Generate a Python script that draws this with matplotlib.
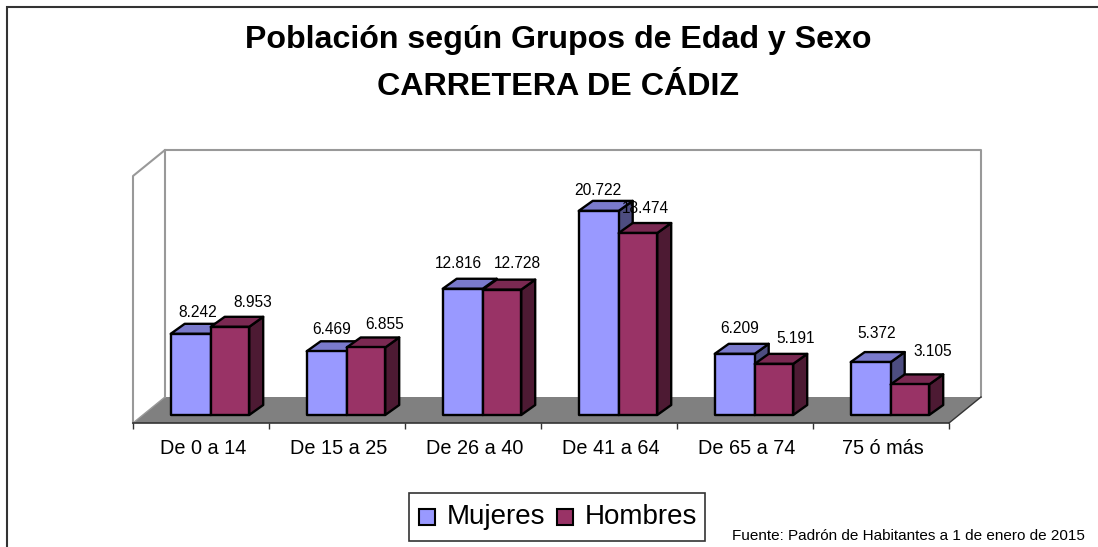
import numpy as np
import matplotlib
matplotlib.use("Agg")
import matplotlib.pyplot as plt
from matplotlib.patches import Polygon, Rectangle

plt.rcParams["font.family"] = ["Liberation Sans", "DejaVu Sans"]

GROUPS = ["De 0 a 14", "De 15 a 25", "De 26 a 40", "De 41 a 64", "De 65 a 74", "75 ó más"]
MUJERES = [8242, 6469, 12816, 20722, 6209, 5372]
HOMBRES = [8953, 6855, 12728, 18474, 5191, 3105]
MUJERES_LBL = ["8.242", "6.469", "12.816", "20.722", "6.209", "5.372"]
HOMBRES_LBL = ["8.953", "6.855", "12.728", "18.474", "5.191", "3.105"]
# nudges of the value labels, px from the front top left corner of each bar
MUJERES_OFF = [(27, 21), (25, 22), (16, 25), (19, 20), (25, 25), (26, 29)]
HOMBRES_OFF = [(42, 24), (38, 23), (35, 26), (27, 25), (41, 25), (42, 33)]

W, H = 1098, 547
PX_PER_CAT = 136.0
PX_PER_UNIT = 9.85 / 1000
BASE_Y = 415
LEFT, RIGHT, FRONT, TOP = 133, 949, 423, 176
BAR_W_M = 40 / PX_PER_CAT
BAR_W_H = 38.5 / PX_PER_CAT
BAR_X0 = (170.7 - LEFT) / PX_PER_CAT - 0.5
DX, DY = 14 / PX_PER_CAT, 10 / PX_PER_UNIT
WALL_DX, WALL_DY = 32 / PX_PER_CAT, 26 / PX_PER_UNIT

fig = plt.figure(figsize=(W / 100, H / 100), dpi=100, facecolor="white")

# outer frame and text live in figure pixels
bg = fig.add_axes([0, 0, 1, 1])
bg.set_xlim(0, W); bg.set_ylim(H, 0); bg.axis("off")
bg.plot([7, 7, W], [H, 6.5, 6.5], color="#333333", lw=1.5, solid_joinstyle="miter")

ax = fig.add_axes([LEFT / W, 1 - FRONT / H, (RIGHT - LEFT) / W, (FRONT - TOP) / H])
ax.patch.set_visible(False)
ax.set_xlim(-0.5, 5.5)
ax.set_ylim((BASE_Y - FRONT) / 9.85 * 1000, (BASE_Y - TOP) / 9.85 * 1000)
for sp in ax.spines.values():
    sp.set_visible(False)
ax.set_yticks([])

y0, y1 = ax.get_ylim()
xl, xr = -0.5, 5.5
GREY = "#999999"
# floor
ax.add_patch(Polygon([(xl, y0), (xl + WALL_DX, y0 + WALL_DY), (xr + WALL_DX, y0 + WALL_DY), (xr, y0)],
                     closed=True, fc="#808080", ec="none", clip_on=False, zorder=1))
# walls
wall_top = y1 + WALL_DY
ax.plot([xl, xl, xl + WALL_DX, xr + WALL_DX, xr + WALL_DX],
        [y0, y1, wall_top, wall_top, y0 + WALL_DY], color=GREY, lw=1.5, clip_on=False, zorder=1)
ax.plot([xl + WALL_DX, xl + WALL_DX], [wall_top, y0 + WALL_DY], color=GREY, lw=1.5, clip_on=False, zorder=1)
ax.plot([xl, xl + WALL_DX], [y0, y0 + WALL_DY], color=GREY, lw=1, clip_on=False, zorder=1)
ax.plot([xr, xr + WALL_DX], [y0, y0 + WALL_DY], color="#333333", lw=1, clip_on=False, zorder=1)
# front axis line and ticks
ax.plot([xl, xr], [y0, y0], color="#333333", lw=1.2, clip_on=False, zorder=2)
ax.set_xticks(np.arange(-0.5, 6, 1))
ax.set_xticklabels([])
ax.tick_params(axis="x", length=4.5, width=1, color="#333333", pad=0)
for i, g in enumerate(GROUPS):
    ax.annotate(g, (i, y0), xytext=(2, -26), textcoords="offset pixels",
                ha="center", va="center", fontsize=14.3, color="black", annotation_clip=False)


def bar3d(x, w, v, front, top, side, z):
    k = dict(closed=True, ec="black", lw=1.7, clip_on=False, zorder=z, joinstyle="round")
    ax.add_patch(Polygon([(x + w, 0), (x + w + DX, DY), (x + w + DX, v + DY), (x + w, v)], fc=side, **k))
    ax.add_patch(Polygon([(x, v), (x + DX, v + DY), (x + w + DX, v + DY), (x + w, v)], fc=top, **k))
    ax.add_patch(Polygon([(x, 0), (x, v), (x + w, v), (x + w, 0)], fc=front, **k))


for i in range(len(GROUPS)):
    xm = BAR_X0 + i
    xh = xm + BAR_W_M
    bar3d(xm, BAR_W_M, MUJERES[i], "#9999FF", "#7A7ACC", "#4D4D80", 3 + i * 2)
    bar3d(xh, BAR_W_H, HOMBRES[i], "#993366", "#7A2952", "#4D1A33", 4 + i * 2)
    ax.annotate(MUJERES_LBL[i], (xm, MUJERES[i]), xytext=MUJERES_OFF[i], textcoords="offset pixels",
                ha="center", va="center", fontsize=11.2, zorder=30, annotation_clip=False)
    ax.annotate(HOMBRES_LBL[i], (xh, HOMBRES[i]), xytext=HOMBRES_OFF[i], textcoords="offset pixels",
                ha="center", va="center", fontsize=11.2, zorder=30, annotation_clip=False)

# titles
bg.text(558, 40, "Población según Grupos de Edad y Sexo", ha="center", va="center",
        fontsize=23.1, fontweight="bold")
bg.text(558, 87, "CARRETERA DE CÁDIZ", ha="center", va="center", fontsize=23.2, fontweight="bold")

# legend drawn by hand so the box lands where the original has it
bg.add_patch(Rectangle((409, 493), 296, 48, fc="white", ec="#333333", lw=1.2))
for sw, col, tx, lab in [(419, "#9999FF", 447, "Mujeres"), (557, "#993366", 585, "Hombres")]:
    bg.add_patch(Rectangle((sw, 509), 16, 16, fc=col, ec="black", lw=1.5))
    bg.text(tx, 517, lab, ha="left", va="center", fontsize=20)

bg.text(732, 536, "Fuente: Padrón de Habitantes a 1 de enero de 2015", ha="left", va="center", fontsize=11)

fig.savefig("out.png", dpi=100)
